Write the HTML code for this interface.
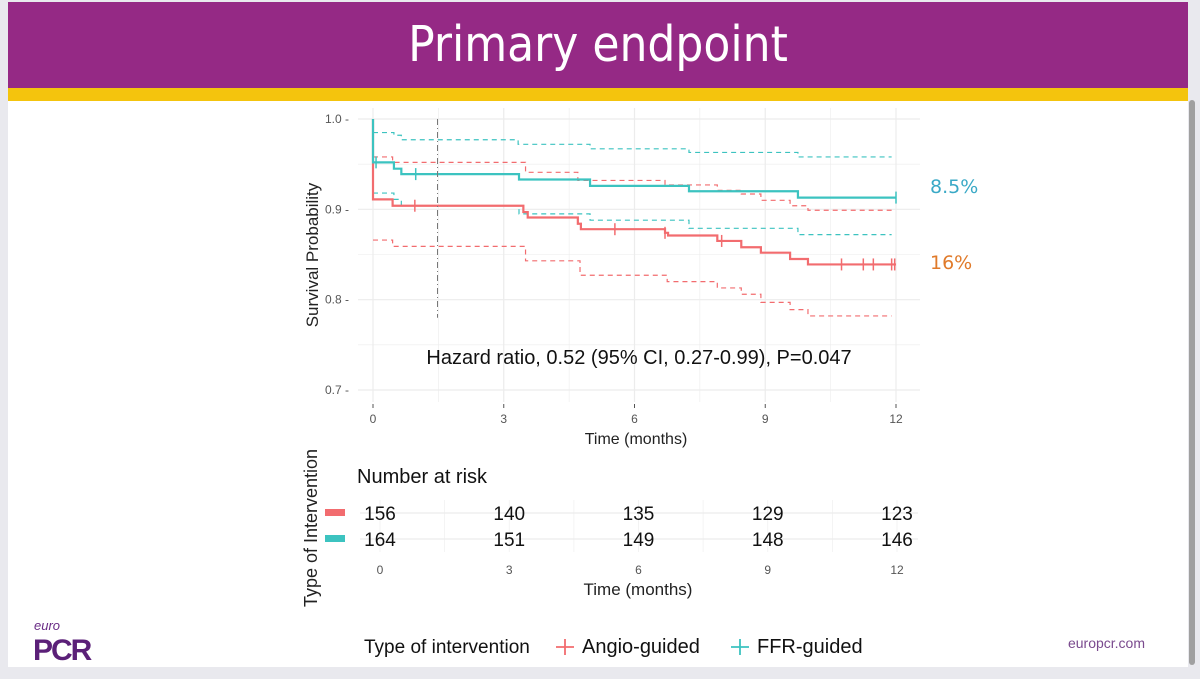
<!DOCTYPE html>
<html><head><meta charset="utf-8"><style>
html,body{margin:0;padding:0;width:1200px;height:679px;overflow:hidden;background:#e9e9ee;font-family:"Liberation Sans",sans-serif}
#slide{position:absolute;left:8px;top:2px;width:1180px;height:665px;background:#fff}
#hdr{position:absolute;left:0;top:0;width:1180px;height:86px;background:#952985;color:#fff;text-align:center;font-size:49px;line-height:86px;font-family:"DejaVu Sans Condensed","Liberation Sans Narrow","Liberation Sans",sans-serif}
#bar{position:absolute;left:0;top:86px;width:1180px;height:13px;background:#f4c40d}
#scroll{position:absolute;left:1189px;top:100px;width:6px;height:565px;background:#a0a0a0;border-radius:3px}
svg{position:absolute;left:0;top:0}
</style></head><body>
<div id="slide">
<div id="hdr">Primary endpoint</div>
<div id="bar"></div>
</div>
<div id="scroll"></div>
<svg id="chart" width="1200" height="679" font-family="Liberation Sans, sans-serif"></svg>
<script>
const ticksX=[0,3,6,9,12];
const ticksY=[0.7,0.8,0.9,1.0];
const ffrT=[0,0,0.48,0.65,3.35,4.98,7.25,9.75,12];
const ffrS=[1.0,0.952,0.945,0.939,0.933,0.926,0.920,0.913,0.913];
const ffrUpT=[0,0.48,0.65,3.33,4.98,7.25,9.75,11.9];
const ffrUpS=[0.985,0.982,0.977,0.972,0.967,0.963,0.958,0.958];
const ffrLoT=[0,0.48,0.65,3.35,4.98,7.25,9.75,11.9];
const ffrLoS=[0.918,0.911,0.904,0.895,0.888,0.879,0.872,0.872];
const angT=[0,0,0.45,3.45,3.55,4.7,4.77,6.7,6.77,7.9,8.45,8.9,9.57,9.98,12];
const angS=[1.0,0.911,0.904,0.897,0.891,0.884,0.878,0.874,0.871,0.865,0.858,0.852,0.845,0.839,0.839];
const angUpT=[0,0.45,3.5,4.7,6.7,7.9,8.45,8.9,9.57,9.98,11.9];
const angUpS=[0.958,0.952,0.941,0.932,0.927,0.921,0.917,0.910,0.904,0.899,0.899];
const angLoT=[0,0.45,3.5,4.75,6.75,7.9,8.45,8.9,9.57,9.98,11.9];
const angLoS=[0.866,0.859,0.843,0.827,0.820,0.813,0.806,0.797,0.789,0.782,0.782];
const ffrCens=[0.07,0.98,12];
const angCens=[0.96,5.55,6.7,8.0,10.75,11.25,11.48,11.9,11.97];
const riskTimes=[0,3,6,9,12];
const riskAng=[156,140,135,129,123];
const riskFfr=[164,151,149,148,146];
const medianLine=1.48;

const NS='http://www.w3.org/2000/svg';
const svg=document.getElementById('chart');
const X=t=>373+t*(896-373)/12;
const Y=s=>390-(s-0.7)*(390-119)/0.3;
const XR=t=>380+t*(897-380)/12;
const RED='#f26c6f',TEAL='#3cc3c0';
function el(tag,attrs,txt){const e=document.createElementNS(NS,tag);for(const k in attrs)e.setAttribute(k,attrs[k]);if(txt!==undefined)e.textContent=txt;svg.appendChild(e);return e;}
for(let t=0;t<=12;t+=1.5){const g=el('line',{x1:X(t),x2:X(t),y1:108,y2:402,stroke:'#ececec','stroke-width':t%3===0?1.2:0.6});
}
for(let s=0.7;s<=1.0001;s+=0.05){const g=el('line',{x1:358,x2:920,y1:Y(s),y2:Y(s),stroke:'#ececec','stroke-width':Math.abs((s*10)%1)<0.01||Math.abs((s*10)%1-1)<0.01?1.2:0.6});
}
ticksY.forEach(v=>{const t=el('text',{x:349,y:Y(v)+4,'text-anchor':'end','font-size':12,fill:'#555'},v.toFixed(1)+' -');
});
ticksX.forEach(v=>{const l=el('line',{x1:X(v),x2:X(v),y1:404,y2:408,stroke:'#555'});

const t=el('text',{x:X(v),y:423,'text-anchor':'middle','font-size':12,fill:'#555'},v);
});
function step(T,S,color,w,dash,name){let d='M'+X(T[0])+','+Y(S[0]);for(let i=1;i<T.length;i++){d+='H'+X(T[i])+'V'+Y(S[i]);}
const p=el('path',{d:d,fill:'none',stroke:color,'stroke-width':w});if(dash)p.setAttribute('stroke-dasharray',dash);
}
step(ffrUpT,ffrUpS,TEAL,1.2,'5,4','ffr-ci-upper');
step(ffrLoT,ffrLoS,TEAL,1.2,'5,4','ffr-ci-lower');
step(angUpT,angUpS,RED,1.2,'5,4','angio-ci-upper');
step(angLoT,angLoS,RED,1.2,'5,4','angio-ci-lower');
step(angT,angS,RED,2.2,null,'angio-survival-line');
step(ffrT,ffrS,TEAL,2.2,null,'ffr-survival-line');
function stepAt(T,S,t){let v=S[0];for(let i=0;i<T.length;i++){if(T[i]<=t)v=S[i];}return v;}
ffrCens.forEach(t=>{const s=stepAt(ffrT,ffrS,t);const l=el('line',{x1:X(t),x2:X(t),y1:Y(s)-6,y2:Y(s)+6,stroke:TEAL,'stroke-width':1.5});
});
angCens.forEach(t=>{const s=stepAt(angT,angS,t);const l=el('line',{x1:X(t),x2:X(t),y1:Y(s)-6,y2:Y(s)+6,stroke:RED,'stroke-width':1.5});
});
const ml=el('line',{x1:X(medianLine),x2:X(medianLine),y1:Y(1.0),y2:Y(0.78),stroke:'#777','stroke-width':1,'stroke-dasharray':'6,3,1,3'});

const yl=el('text',{x:0,y:0,transform:'translate(318,255) rotate(-90)','text-anchor':'middle','font-size':17,fill:'#222'},'Survival Probability');

const xl=el('text',{x:636,y:444,'text-anchor':'middle','font-size':16,fill:'#222'},'Time (months)');

const hr=el('text',{x:639,y:364,'text-anchor':'middle','font-size':20,fill:'#111'},'Hazard ratio, 0.52 (95% CI, 0.27-0.99), P=0.047');

const p1=el('text',{x:930,y:193,'font-size':19,fill:'#3aa9c6','font-family':'DejaVu Sans, sans-serif'},'8.5%');

const p2=el('text',{x:930,y:269,'font-size':19,fill:'#e07a2a','font-family':'DejaVu Sans, sans-serif'},'16%');

for(let t=0;t<=12;t+=1.5){const g=el('line',{x1:XR(t),x2:XR(t),y1:500,y2:552,stroke:'#f0f0f0','stroke-width':0.8});
}
[513,539].forEach(y=>{const g=el('line',{x1:360,x2:918,y1:y,y2:y,stroke:'#ececec','stroke-width':1.2});
});
const nr=el('text',{x:357,y:483,'font-size':20,fill:'#111'},'Number at risk');

riskTimes.forEach((t,i)=>{const a=el('text',{x:XR(t),y:520,'text-anchor':'middle','font-size':19,fill:'#111'},riskAng[i]);

const f=el('text',{x:XR(t),y:546,'text-anchor':'middle','font-size':19,fill:'#111'},riskFfr[i]);

const k=el('text',{x:XR(t),y:574,'text-anchor':'middle','font-size':12,fill:'#555'},t);
});
const r1=el('rect',{x:325,y:509,width:20,height:7,fill:RED});
const r2=el('rect',{x:325,y:535,width:20,height:7,fill:TEAL});
const rl=el('text',{x:0,y:0,transform:'translate(317,528) rotate(-90)','text-anchor':'middle','font-size':18,fill:'#222'},'Type of Intervention');

const rx=el('text',{x:638,y:595,'text-anchor':'middle','font-size':17,fill:'#222'},'Time (months)');

const lt=el('text',{x:364,y:653,'font-size':19,fill:'#111'},'Type of intervention');

const la1=el('path',{d:'M556,647h18M565,639v16',stroke:RED,'stroke-width':1.8});
const la=el('text',{x:582,y:653,'font-size':20,fill:'#111'},'Angio-guided');
const lf1=el('path',{d:'M731,647h18M740,639v16',stroke:TEAL,'stroke-width':1.8});
const lf=el('text',{x:757,y:653,'font-size':20,fill:'#111'},'FFR-guided');
const eu=el('text',{x:34,y:630,'font-size':13,fill:'#6a2c86','font-style':'italic'},'euro');
const pc=el('text',{x:33,y:660,'font-size':30,'font-weight':'bold',fill:'#5b2078','letter-spacing':'-2'},'PCR');
const url=el('text',{x:1145,y:648,'text-anchor':'end','font-size':14,fill:'#7a4a8e'},'europcr.com');
</script>
</body></html>
